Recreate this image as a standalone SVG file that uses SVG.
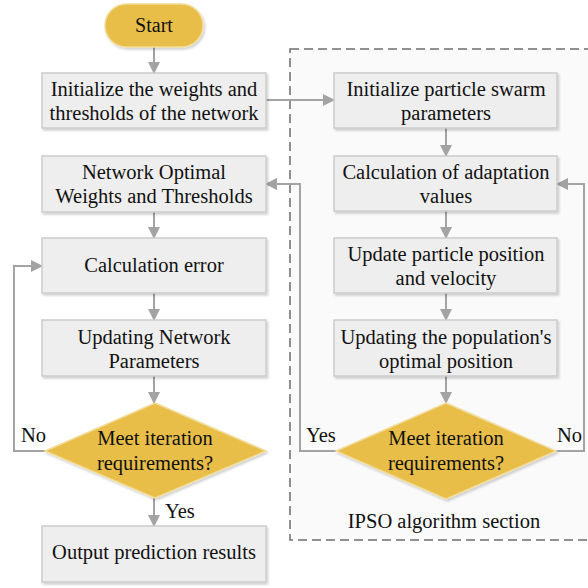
<svg xmlns="http://www.w3.org/2000/svg" width="588" height="588" viewBox="0 0 588 588">
<defs>
<filter id="sh" x="-10%" y="-10%" width="130%" height="140%">
<feDropShadow dx="1.5" dy="2" stdDeviation="1.2" flood-color="#000" flood-opacity="0.18"/>
</filter>
<marker id="ah" markerWidth="12" markerHeight="12" refX="11" refY="6" orient="auto" markerUnits="userSpaceOnUse">
<path d="M0,0 L12,6 L0,12 Z" fill="#a3a3a3"/>
</marker>
<style>
.box{fill:#eeeeee;stroke:#cccccc;stroke-width:1.5;filter:url(#sh)}
.dia{fill:#e8be4a;stroke:#f2dc9a;stroke-width:1.5;filter:url(#sh)}
text{font-family:"Liberation Serif","Times New Roman",serif;font-size:20.5px;fill:#111}
.t{text-anchor:middle}
.c{fill:none;stroke:#a3a3a3;stroke-width:2}
</style>
</defs>
<rect x="0" y="0" width="588" height="588" fill="#ffffff"/>
<g id="ipso-section">
<rect x="290" y="49" width="302" height="491" fill="#fafafa" stroke="#6e6e6e" stroke-width="1.5" stroke-dasharray="9,5"/>
<text class="t" x="444" y="528">IPSO algorithm section</text>
</g>
<g id="connectors">
<line class="c" x1="154" y1="47" x2="154" y2="73" marker-end="url(#ah)"/>
<line class="c" x1="266" y1="100" x2="334" y2="100" marker-end="url(#ah)"/>
<line class="c" x1="446" y1="128" x2="446" y2="156" marker-end="url(#ah)"/>
<line class="c" x1="446" y1="211" x2="446" y2="238" marker-end="url(#ah)"/>
<line class="c" x1="446" y1="293" x2="446" y2="320" marker-end="url(#ah)"/>
<line class="c" x1="446" y1="376" x2="446" y2="403" marker-end="url(#ah)"/>
<polyline class="c" points="336,451 300,451 300,184 266,184" marker-end="url(#ah)"/>
<polyline class="c" points="556,451 584,451 584,184 557,184" marker-end="url(#ah)"/>
<line class="c" x1="154" y1="212" x2="154" y2="238" marker-end="url(#ah)"/>
<line class="c" x1="154" y1="293" x2="154" y2="320" marker-end="url(#ah)"/>
<line class="c" x1="154" y1="376" x2="154" y2="403" marker-end="url(#ah)"/>
<line class="c" x1="154" y1="498" x2="154" y2="526" marker-end="url(#ah)"/>
<polyline class="c" points="45,451 14,451 14,266 42,266" marker-end="url(#ah)"/>
<text x="21" y="442">No</text>
<text x="165" y="518">Yes</text>
<text x="306" y="442">Yes</text>
<text x="557" y="442">No</text>
</g>
<g id="start">
<rect x="105" y="4" width="98" height="43" rx="21.5" fill="#e8be4a" stroke="#f2dc9a" stroke-width="1.5" filter="url(#sh)"/>
<text class="t" x="154" y="32" style="font-size:20px">Start</text>
</g>
<g id="init-network">
<rect class="box" x="42" y="73" width="224" height="55"/>
<text class="t" x="154" y="96">Initialize the weights and</text>
<text class="t" x="154" y="120">thresholds of the network</text>
</g>
<g id="optimal-weights">
<rect class="box" x="42" y="156" width="224" height="56"/>
<text class="t" x="154" y="179">Network Optimal</text>
<text class="t" x="154" y="203">Weights and Thresholds</text>
</g>
<g id="calc-error">
<rect class="box" x="42" y="238" width="224" height="55"/>
<text class="t" x="154" y="272">Calculation error</text>
</g>
<g id="update-network">
<rect class="box" x="42" y="320" width="224" height="56"/>
<text class="t" x="154" y="344">Updating Network</text>
<text class="t" x="154" y="368">Parameters</text>
</g>
<g id="meet-left">
<polygon class="dia" points="155,403 266,451 155,498 45,451"/>
<text class="t" x="155" y="445">Meet iteration</text>
<text class="t" x="155" y="470">requirements?</text>
</g>
<g id="output">
<rect class="box" x="42" y="526" width="224" height="56"/>
<text class="t" x="154" y="559">Output prediction results</text>
</g>
<g id="init-pso">
<rect class="box" x="334" y="73" width="223" height="55"/>
<text class="t" x="446" y="96">Initialize particle swarm</text>
<text class="t" x="446" y="120">parameters</text>
</g>
<g id="calc-fitness">
<rect class="box" x="334" y="156" width="223" height="55"/>
<text class="t" x="446" y="179">Calculation of adaptation</text>
<text class="t" x="446" y="203">values</text>
</g>
<g id="update-particle">
<rect class="box" x="334" y="238" width="223" height="55"/>
<text class="t" x="446" y="261">Update particle position</text>
<text class="t" x="446" y="285">and velocity</text>
</g>
<g id="update-population">
<rect class="box" x="334" y="320" width="223" height="56"/>
<text class="t" x="446" y="344">Updating the population's</text>
<text class="t" x="446" y="368">optimal position</text>
</g>
<g id="meet-right">
<polygon class="dia" points="446,403 556,451 446,499 336,451"/>
<text class="t" x="446" y="445">Meet iteration</text>
<text class="t" x="446" y="470">requirements?</text>
</g>
</svg>
